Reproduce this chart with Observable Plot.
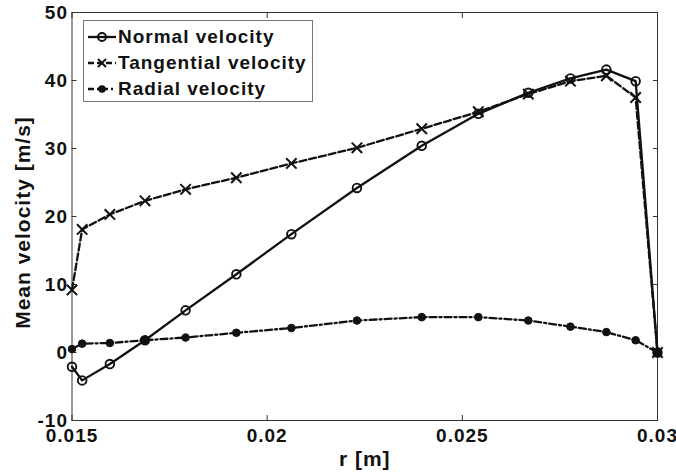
<!DOCTYPE html>
<html><head><meta charset="utf-8">
<script src="https://cdn.jsdelivr.net/npm/d3@7"></script>
<script src="https://cdn.jsdelivr.net/npm/@observablehq/plot@0.6"></script>
<style>
body{margin:0;background:#fff;}
#wrap{position:relative;width:676px;height:472px;}
#legend{position:absolute;left:83px;top:20px;width:230px;height:82px;box-sizing:border-box;border:1px solid #777;background:#fff;padding-top:3px;font-family:"Liberation Sans",Arial,sans-serif;font-weight:bold;font-size:19px;letter-spacing:1px;color:#111;}
.row{height:26px;display:flex;align-items:center;white-space:nowrap;}
.row svg{margin-left:4px;margin-right:2px;flex:none;}
</style></head>
<body><div id="wrap"></div>
<script>
const r = [0.015, 0.01526, 0.01597, 0.01687, 0.01791, 0.01921, 0.02062, 0.0223, 0.02396, 0.02541, 0.02669, 0.02777, 0.02869, 0.02944, 0.03];
const normal = [-2.1, -4.1, -1.7, 1.8, 6.2, 11.5, 17.4, 24.2, 30.4, 35.1, 38.2, 40.3, 41.6, 39.9, 0];
const tangential = [9.2, 18.1, 20.3, 22.3, 24.0, 25.7, 27.8, 30.1, 32.9, 35.4, 38.0, 39.9, 40.7, 37.5, 0];
const radial = [0.5, 1.3, 1.4, 1.8, 2.2, 2.9, 3.6, 4.7, 5.2, 5.2, 4.7, 3.8, 3.0, 1.8, 0];
const seriesNames = ["Normal velocity", "Tangential velocity", "Radial velocity"];
const xTicks = [0.015, 0.02, 0.025, 0.03];
const yTicks = [-10, 0, 10, 20, 30, 40, 50];
const xLabel = "r [m]";
const yLabel = "Mean velocity [m/s]";

const toRows = (vals) => r.map((x, i) => ({r: x, v: vals[i]}));
const nData = toRows(normal), tData = toRows(tangential), rData = toRows(radial);

const ink = "#111";
const axisInk = "#333";
const fmt = d => String(d);

const chart = Plot.plot({
  width: 676,
  height: 472,
  marginLeft: 71.5,
  marginRight: 19,
  marginTop: 12,
  marginBottom: 52,
  x: {domain: [0.015, 0.03]},
  y: {domain: [-10, 50]},
  style: {fontFamily: "'Liberation Sans', Arial, sans-serif", fontWeight: "bold", fontSize: "19px", letterSpacing: "1px", color: ink, background: "#fff"},
  marks: [
    Plot.frame({stroke: axisInk, strokeWidth: 1}),
    Plot.axisX({ticks: xTicks, tickSize: 0, tickPadding: 8, tickFormat: fmt, label: null, fill: ink}),
    Plot.axisX({ticks: xTicks, tickSize: 5, dy: -5, tickFormat: () => "", label: null, stroke: axisInk}),
    Plot.axisX({anchor: "top", ticks: xTicks, tickSize: 5, dy: 5, tickFormat: () => "", label: null, stroke: axisInk}),
    Plot.axisY({ticks: yTicks, tickSize: 0, tickPadding: 4, tickFormat: fmt, label: null, fill: ink}),
    Plot.axisY({ticks: yTicks, tickSize: 5, dx: 5, tickFormat: () => "", label: null, stroke: axisInk}),
    Plot.axisY({anchor: "right", ticks: yTicks, tickSize: 5, dx: -5, tickFormat: () => "", label: null, stroke: axisInk}),
    Plot.text([xLabel], {frameAnchor: "bottom", dy: 39, textAnchor: "middle", lineAnchor: "middle", fontSize: 21, fontWeight: "bold", fill: ink}),
    Plot.text([yLabel], {frameAnchor: "left", dx: -49, dy: 6, rotate: -90, textAnchor: "middle", lineAnchor: "middle", fontSize: 21, fontWeight: "bold", fill: ink}),
    Plot.line(rData, {x: "r", y: "v", stroke: ink, strokeWidth: 2.3, strokeDasharray: "7,3,2,3"}),
    Plot.line(tData, {x: "r", y: "v", stroke: ink, strokeWidth: 2.3, strokeDasharray: "7,3"}),
    Plot.line(nData, {x: "r", y: "v", stroke: ink, strokeWidth: 2.3}),
    Plot.dot(rData, {x: "r", y: "v", r: 3.8, fill: ink, stroke: ink, strokeWidth: 1}),
    Plot.dot(tData, {x: "r", y: "v", r: 4.8, symbol: "times", stroke: ink, strokeWidth: 2}),
    Plot.dot(nData, {x: "r", y: "v", r: 4.3, fill: "none", stroke: ink, strokeWidth: 1.9})
  ]
});

const wrap = document.getElementById("wrap");
wrap.appendChild(chart);

const swatch = (dash, marker) => `<svg width="28" height="14" viewBox="0 0 28 14">
  <line x1="0" y1="7" x2="28" y2="7" stroke="${ink}" stroke-width="2.3" ${dash ? `stroke-dasharray="${dash}"` : ""}/>
  ${marker}</svg>`;
const legend = document.createElement("div");
legend.id = "legend";
const swatches = [
  swatch(null, `<circle cx="14" cy="7" r="4" fill="#fff" stroke="${ink}" stroke-width="1.9"/><line x1="9" y1="7" x2="19" y2="7" stroke="${ink}" stroke-width="2.3"/>`),
  swatch("6,3", `<path d="M10,3L18,11M10,11L18,3" stroke="${ink}" stroke-width="2"/>`),
  swatch("6,3,2,3", `<circle cx="14" cy="7" r="3.8" fill="${ink}"/>`)
];
legend.innerHTML = seriesNames.map((name, i) => `<div class="row">${swatches[i]}<span>${name}</span></div>`).join("");
wrap.appendChild(legend);
</script>
</body></html>
